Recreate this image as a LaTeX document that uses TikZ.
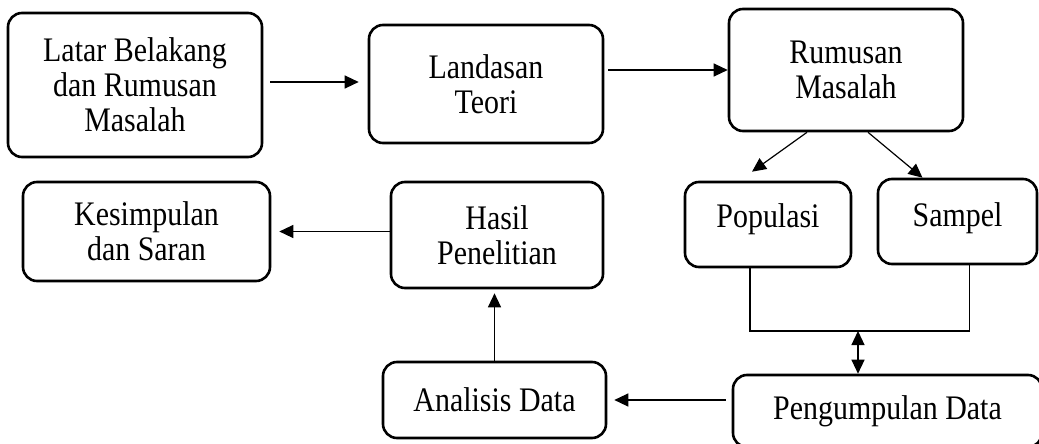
\documentclass[tikz,border=0pt]{standalone}
\usepackage{fontspec}
\setmainfont{Liberation Serif}[FakeStretch=0.87]
\usetikzlibrary{arrows.meta}

\tikzset{
  box/.style={draw, line width=1.3pt, rounded corners=7pt, align=center,
    inner sep=0pt, font=\fontsize{17.2}{17.5}\selectfont},
  arr/.style={line width=0.6pt, -{Triangle[length=7pt, width=6.5pt]}},
  dblarr/.style={line width=0.6pt,
    {Triangle[length=7pt, width=6.5pt]}-{Triangle[length=7pt, width=6.5pt]}},
  link/.style={line width=0.6pt},
}

\begin{document}
\begin{tikzpicture}[x=0.5pt, y=-0.5pt]

  \clip (0,0) rectangle (1039,444);

  %% ---- Top row ----
  \node[box, minimum width=127pt, minimum height=72pt] (latar) at (135,85)
    {Latar Belakang\\dan Rumusan\\Masalah};
  \node[box, minimum width=117pt, minimum height=59pt] (landasan) at (486,84)
    {Landasan\\Teori};
  \node[box, minimum width=117pt, minimum height=61pt] (rumusan) at (846,70)
    {Rumusan\\Masalah};

  %% ---- Middle row ----
  \node[box, minimum width=123.5pt, minimum height=49.5pt] (kesimpulan) at (146.5,231.5)
    {Kesimpulan\\dan Saran};
  \node[box, minimum width=106pt, minimum height=53pt] (hasil) at (497,235)
    {Hasil\\Penelitian};
  \node[box, minimum width=83pt, minimum height=42.5pt, text depth=9pt] (populasi) at (768,224.5)
    {Populasi};
  \node[box, minimum width=79.5pt, minimum height=42.5pt, text depth=6.5pt] (sampel) at (957.5,221.5)
    {Sampel};

  %% ---- Bottom row ----
  \node[box, minimum width=111.5pt, minimum height=38pt] (analisis) at (494.5,400)
    {Analisis Data};
  \node[box, minimum width=154.5pt, minimum height=36pt] (pengumpulan) at (887.5,411)
    {Pengumpulan Data};

  %% ---- Flow along the top ----
  \draw[arr, shorten <=3.5pt, shorten >=4.5pt] ([yshift=1.5pt]latar.east)
    -- ([yshift=1.5pt]latar.east -| landasan.west);
  \draw[arr, shorten <=2pt] (landasan.east |- rumusan.west) -- (rumusan.west);

  %% Split into population and sample
  \draw[arr] ([xshift=-19.5pt]rumusan.south) -- ([xshift=-8pt, yshift=4.5pt]populasi.north);
  \draw[arr] ([xshift=11pt]rumusan.south) -- ([xshift=-17.5pt]sampel.north);

  %% Both join into data collection
  \coordinate (join) at (858,331);
  \draw[link] ([xshift=-9pt]populasi.south) |- (join) -| ([xshift=6pt]sampel.south);
  \draw[dblarr] (join) -- (join |- pengumpulan.north);

  %% ---- Flow back along the bottom ----
  \draw[arr, shorten <=3pt, shorten >=3.5pt] (pengumpulan.west |- analisis.east) -- (analisis.east);
  \draw[arr, shorten >=2pt] (analisis.north) -- (analisis.north |- hasil.south);
  \draw[arr, shorten >=4pt] (hasil.west |- kesimpulan.east) -- (kesimpulan.east);

\end{tikzpicture}
\end{document}
